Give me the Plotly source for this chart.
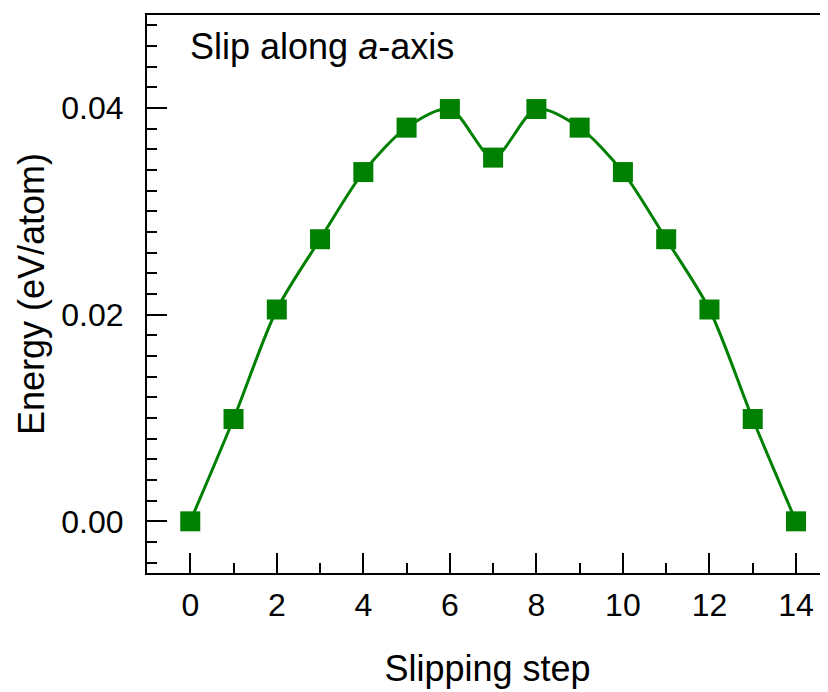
import plotly.graph_objects as go

steps = list(range(15))
energy = [0.0, 0.0099, 0.0205, 0.0273, 0.0338, 0.0381, 0.0399, 0.0352,
          0.0399, 0.0381, 0.0338, 0.0273, 0.0205, 0.0099, 0.0]
x_ticks = [0, 2, 4, 6, 8, 10, 12, 14]
y_ticks = [0.0, 0.02, 0.04]

green = "#008000"
font_family = "Liberation Sans, Arial, sans-serif"

fig = go.Figure()
fig.add_trace(go.Scatter(
    x=steps, y=energy, mode="lines+markers",
    line=dict(color=green, width=3, shape="spline", smoothing=0.8),
    marker=dict(symbol="square", size=20, color=green),
    showlegend=False,
))

# page body adds an 8px offset; compensate so the plot lands where the reference has it
fig.update_layout(
    width=820, height=684,
    margin=dict(l=139, r=0, t=7, b=119),
    paper_bgcolor="white", plot_bgcolor="white",
    font=dict(family=font_family, color="black"),
)

fig.update_xaxes(
    range=[-1, 14.74], tickvals=x_ticks,
    ticks="inside", ticklen=20, tickwidth=2, tickcolor="black",
    minor=dict(dtick=1, ticks="inside", ticklen=10, tickwidth=2, tickcolor="black"),
    showline=True, linecolor="black", linewidth=2, mirror=True,
    showgrid=False, zeroline=False,
    tickfont=dict(size=32), ticklabelstandoff=3,
    title=dict(text="Slipping step", font=dict(size=36), standoff=33),
)
fig.update_yaxes(
    range=[-0.005, 0.049], tickvals=y_ticks, tickformat=".2f",
    ticks="inside", ticklen=20, tickwidth=2, tickcolor="black",
    minor=dict(dtick=0.002, tick0=0, ticks="inside", ticklen=10, tickwidth=2, tickcolor="black"),
    showline=True, linecolor="black", linewidth=2, mirror=False,
    showgrid=False, zeroline=False,
    tickfont=dict(size=32), ticklabelstandoff=15,
    title=dict(text="Energy (eV/atom)", font=dict(size=36), standoff=6),
)

fig.add_annotation(
    text="Slip along <i>a</i>-axis", xref="paper", yref="paper",
    x=0.060, y=0.9427, xanchor="left", yanchor="middle",
    showarrow=False, font=dict(size=36, color="black"),
)

fig.write_html("out.html")
